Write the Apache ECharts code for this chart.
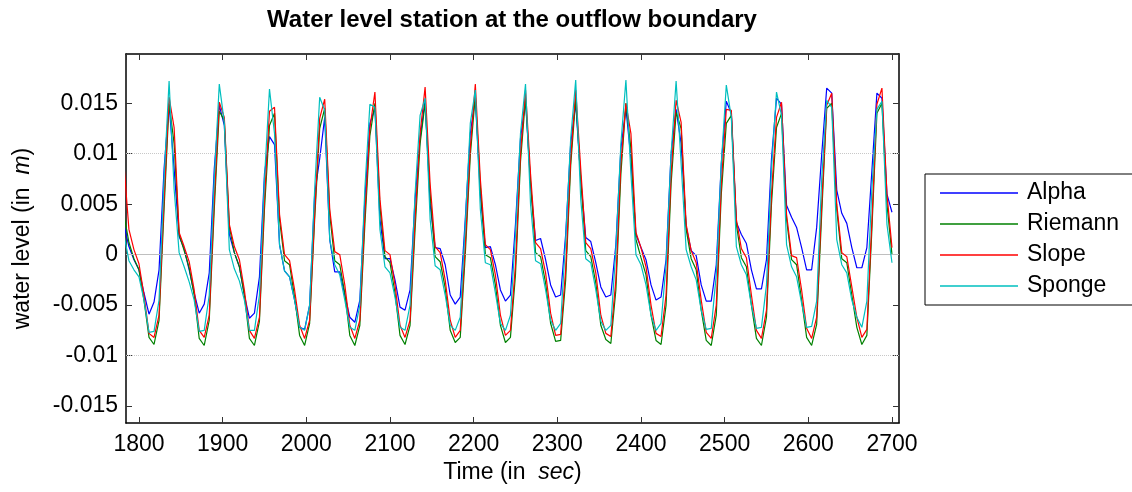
<!DOCTYPE html>
<html><head><meta charset="utf-8">
<script src="https://cdn.jsdelivr.net/npm/echarts@6/dist/echarts.min.js"></script>
<style>html,body{margin:0;padding:0;background:#fff}#c{width:1132px;height:492px}</style>
</head><body><div id="c"></div>
<script>
const times = [1782,1788,1794,1800,1806,1812,1818,1824,1830,
1836,1842,1848,1854,1860,1866,1872,1878,1884,1890,
1896,1902,1908,1914,1920,1926,1932,1938,1944,1950,
1956,1962,1968,1974,1980,1986,1992,1998,2004,2010,
2016,2022,2028,2034,2040,2046,2052,2058,2064,2070,
2076,2082,2088,2094,2100,2106,2112,2118,2124,2130,
2136,2142,2148,2154,2160,2166,2172,2178,2184,2190,2196,
2202,2208,2214,2220,2226,2232,2238,2244,2250,2256,
2262,2268,2274,2280,2286,2292,2298,2304,2310,2316,
2322,2328,2334,2340,2346,2352,2358,2364,2370,2376,
2382,2388,2394,2400,2406,2412,2418,2424,2430,2436,
2442,2448,2454,2460,2466,2472,2478,2484,2490,2496,
2502,2508,2514,2520,2526,2532,2538,2544,2550,2556,
2562,2568,2574,2580,2586,2592,2598,2604,2610,2616,
2622,2628,2634,2640,2646,2652,2658,2664,2670,2676,
2682,2688,2694,2700];

const alpha = [0.0030,0.0008,-0.0005,-0.0015,-0.0038,-0.0059,-0.0047,-0.0015,0.0085,
0.0149,0.0085,0.0018,0.0006,-0.0015,-0.0038,-0.0058,-0.0049,-0.0018,0.0085,
0.0148,0.0128,0.0020,0.0002,-0.0012,-0.0040,-0.0063,-0.0058,-0.0022,0.0080,
0.0117,0.0109,0.0010,-0.0016,-0.0022,-0.0045,-0.0072,-0.0074,-0.0050,0.0060,
0.0095,0.0136,0.0015,-0.0017,-0.0017,-0.0040,-0.0062,-0.0067,-0.0045,0.0055,
0.0130,0.0145,0.0035,-0.0004,-0.0004,-0.0025,-0.0052,-0.0055,-0.0035,0.0055,
0.0115,0.0153,0.0050,0.0007,0.0006,-0.0010,-0.0040,-0.0049,-0.0042,0.0035,0.0120,
0.0155,0.0060,0.0007,0.0008,-0.0010,-0.0035,-0.0046,-0.0040,0.0030,0.0115,
0.0153,0.0070,0.0014,0.0016,-0.0005,-0.0030,-0.0042,-0.0040,0.0020,0.0110,
0.0150,0.0075,0.0017,0.0013,-0.0008,-0.0032,-0.0042,-0.0040,0.0010,0.0105,
0.0145,0.0095,0.0020,0.0007,-0.0005,-0.0030,-0.0045,-0.0042,-0.0005,0.0100,
0.0144,0.0110,0.0028,0.0004,-0.0001,-0.0030,-0.0046,-0.0046,-0.0010,0.0090,
0.0152,0.0140,0.0032,0.0020,0.0011,-0.0015,-0.0034,-0.0034,-0.0005,0.0095,
0.0155,0.0149,0.0049,0.0037,0.0027,0.0007,-0.0015,-0.0015,0.0027,0.0099,
0.0165,0.0160,0.0064,0.0041,0.0031,0.0007,-0.0013,-0.0013,0.0007,0.0083,
0.0160,0.0155,0.0060,0.0042];

const riemann = [0.0040,0.0012,-0.0004,-0.0015,-0.0045,-0.0082,-0.0089,-0.0065,0.0045,
0.0150,0.0110,0.0020,0.0004,-0.0013,-0.0040,-0.0083,-0.0090,-0.0065,0.0045,
0.0142,0.0133,0.0028,0.0002,-0.0012,-0.0040,-0.0083,-0.0090,-0.0066,0.0045,
0.0128,0.0140,0.0035,-0.0006,-0.0010,-0.0042,-0.0080,-0.0090,-0.0068,0.0035,
0.0125,0.0145,0.0040,-0.0006,-0.0010,-0.0038,-0.0080,-0.0090,-0.0070,0.0030,
0.0118,0.0150,0.0048,-0.0002,-0.0008,-0.0038,-0.0080,-0.0089,-0.0070,0.0025,
0.0110,0.0150,0.0060,-0.0002,-0.0007,-0.0033,-0.0075,-0.0087,-0.0082,0.0000,0.0098,
0.0158,0.0068,0.0000,-0.0003,-0.0030,-0.0070,-0.0087,-0.0082,-0.0020,0.0092,
0.0155,0.0072,0.0002,-0.0002,-0.0028,-0.0068,-0.0086,-0.0085,-0.0025,0.0088,
0.0155,0.0075,0.0004,-0.0002,-0.0028,-0.0070,-0.0084,-0.0088,-0.0035,0.0080,
0.0150,0.0105,0.0015,-0.0003,-0.0020,-0.0060,-0.0085,-0.0089,-0.0050,0.0070,
0.0141,0.0125,0.0025,-0.0004,-0.0015,-0.0055,-0.0085,-0.0090,-0.0060,0.0060,
0.0130,0.0138,0.0030,-0.0003,-0.0012,-0.0050,-0.0083,-0.0090,-0.0062,0.0050,
0.0126,0.0140,0.0035,-0.0005,-0.0010,-0.0045,-0.0082,-0.0090,-0.0069,0.0040,
0.0145,0.0150,0.0045,-0.0004,-0.0008,-0.0040,-0.0072,-0.0089,-0.0080,0.0025,
0.0140,0.0150,0.0050,0.0000];

const slope = [0.0090,0.0025,0.0005,-0.0009,-0.0040,-0.0078,-0.0082,-0.0060,0.0055,
0.0156,0.0126,0.0022,0.0008,-0.0007,-0.0035,-0.0075,-0.0082,-0.0060,0.0055,
0.0151,0.0136,0.0030,0.0008,-0.0005,-0.0035,-0.0075,-0.0083,-0.0062,0.0055,
0.0142,0.0146,0.0040,0.0000,-0.0006,-0.0035,-0.0070,-0.0083,-0.0065,0.0040,
0.0135,0.0154,0.0045,0.0003,0.0000,-0.0030,-0.0070,-0.0083,-0.0065,0.0040,
0.0125,0.0161,0.0055,0.0004,0.0000,-0.0030,-0.0070,-0.0082,-0.0065,0.0035,
0.0120,0.0166,0.0070,0.0008,0.0002,-0.0025,-0.0065,-0.0082,-0.0075,0.0010,0.0105,
0.0169,0.0075,0.0010,0.0005,-0.0020,-0.0060,-0.0080,-0.0075,-0.0010,0.0100,
0.0163,0.0080,0.0012,0.0006,-0.0018,-0.0058,-0.0080,-0.0079,-0.0015,0.0095,
0.0163,0.0085,0.0012,0.0006,-0.0018,-0.0060,-0.0078,-0.0081,-0.0025,0.0090,
0.0150,0.0120,0.0022,0.0007,-0.0012,-0.0050,-0.0078,-0.0081,-0.0040,0.0080,
0.0153,0.0131,0.0030,0.0004,-0.0008,-0.0045,-0.0077,-0.0083,-0.0050,0.0070,
0.0144,0.0143,0.0035,0.0006,-0.0003,-0.0040,-0.0075,-0.0083,-0.0055,0.0060,
0.0136,0.0151,0.0040,-0.0001,-0.0003,-0.0035,-0.0073,-0.0083,-0.0062,0.0050,
0.0148,0.0160,0.0050,0.0002,-0.0002,-0.0032,-0.0062,-0.0082,-0.0074,0.0033,
0.0149,0.0165,0.0060,0.0007];

const sponge = [0.0020,-0.0006,-0.0015,-0.0022,-0.0045,-0.0077,-0.0076,-0.0045,0.0075,
0.0172,0.0065,0.0002,-0.0012,-0.0027,-0.0045,-0.0076,-0.0075,-0.0040,0.0075,
0.0169,0.0131,0.0005,-0.0014,-0.0026,-0.0045,-0.0075,-0.0075,-0.0040,0.0075,
0.0164,0.0120,0.0010,-0.0016,-0.0022,-0.0045,-0.0072,-0.0075,-0.0050,0.0065,
0.0156,0.0143,0.0015,-0.0010,-0.0020,-0.0045,-0.0072,-0.0075,-0.0050,0.0065,
0.0149,0.0146,0.0025,-0.0012,-0.0018,-0.0042,-0.0072,-0.0075,-0.0050,0.0060,
0.0138,0.0155,0.0035,-0.0011,-0.0015,-0.0040,-0.0070,-0.0075,-0.0062,0.0030,0.0130,
0.0163,0.0045,-0.0008,-0.0010,-0.0038,-0.0068,-0.0075,-0.0060,0.0020,0.0120,
0.0169,0.0050,-0.0006,-0.0009,-0.0035,-0.0065,-0.0075,-0.0068,0.0015,0.0115,
0.0173,0.0055,-0.0004,-0.0008,-0.0035,-0.0066,-0.0075,-0.0070,0.0005,0.0110,
0.0173,0.0080,0.0000,-0.0010,-0.0030,-0.0060,-0.0075,-0.0068,-0.0010,0.0100,
0.0172,0.0090,0.0005,-0.0012,-0.0025,-0.0055,-0.0074,-0.0073,-0.0020,0.0090,
0.0168,0.0136,0.0008,-0.0010,-0.0020,-0.0050,-0.0073,-0.0072,-0.0030,0.0085,
0.0161,0.0138,0.0010,-0.0012,-0.0022,-0.0048,-0.0072,-0.0071,-0.0046,0.0075,
0.0153,0.0146,0.0015,-0.0010,-0.0018,-0.0045,-0.0062,-0.0072,-0.0046,0.0066,
0.0144,0.0152,0.0030,-0.0008];

const seriesNames = ['Alpha', 'Riemann', 'Slope', 'Sponge'];
const seriesColors = ['#0000ff', '#008000', '#ff0000', '#00bfbf'];
const refLevels = [0.0107, -0.0107];
const xRange = [1784.5, 2708.4];
const yRange = [-0.01668, 0.01988];

const FONT = '"Liberation Sans", Arial, Helvetica, sans-serif';
const seriesValues = [alpha, riemann, slope, sponge];
const pairs = vals => times.map((t, i) => [t, vals[i]]);

const axisLine = {show: true, onZero: false, lineStyle: {color: '#000', width: 1.5}};
const axisTick = {show: true, inside: true, length: 6, lineStyle: {color: '#333', width: 1}};
const labelBase = {fontFamily: FONT, fontSize: 23, color: '#000', showMinLabel: false, showMaxLabel: false,
  formatter: v => String(v)};

const chart = echarts.init(document.getElementById('c'));
chart.setOption({
  animation: false,
  backgroundColor: '#fff',
  title: {
    text: 'Water level station at the outflow boundary',
    left: 512, top: 8, textAlign: 'center', padding: 0,
    textStyle: {fontFamily: FONT, fontSize: 24, fontWeight: 'bold', color: '#000'}
  },
  legend: {
    orient: 'vertical', left: 925, top: 174,
    padding: [7, 40, 7, 15], itemGap: 7, itemWidth: 78, itemHeight: 1.5, icon: 'rect',
    backgroundColor: '#fff', borderColor: '#000', borderWidth: 1, borderRadius: 0,
    textStyle: {fontFamily: FONT, fontSize: 23, color: '#000', lineHeight: 24, padding: [0, 0, 0, 4]},
    data: seriesNames
  },
  grid: {left: 126, top: 54, right: 233, bottom: 69},
  xAxis: [{
    type: 'value', min: xRange[0], max: xRange[1], splitNumber: 9, position: 'bottom',
    axisLine, axisTick, splitLine: {show: false},
    axisLabel: Object.assign({margin: 10}, labelBase),
    name: '{a|Time (in  }{b|sec}{a|)}', nameLocation: 'middle', nameGap: 31,
    nameTextStyle: {rich: {
      a: {fontFamily: FONT, fontSize: 23, color: '#000'},
      b: {fontFamily: FONT, fontSize: 23, color: '#000', fontStyle: 'italic'}
    }}
  }, {
    type: 'value', min: xRange[0], max: xRange[1], splitNumber: 9, position: 'top',
    axisLine, axisTick, splitLine: {show: false}, axisLabel: {show: false}
  }],
  yAxis: [{
    type: 'value', min: yRange[0], max: yRange[1], splitNumber: 7, position: 'left',
    axisLine, axisTick, splitLine: {show: false},
    axisLabel: Object.assign({margin: 8}, labelBase),
    name: '{a|water level (in  }{b|m}{a|)}', nameLocation: 'middle', nameGap: 92,
    nameTextStyle: {rich: {
      a: {fontFamily: FONT, fontSize: 23, color: '#000'},
      b: {fontFamily: FONT, fontSize: 23, color: '#000', fontStyle: 'italic'}
    }}
  }, {
    type: 'value', min: yRange[0], max: yRange[1], splitNumber: 7, position: 'right',
    axisLine, axisTick, splitLine: {show: false}, axisLabel: {show: false}
  }],
  series: seriesNames.map((name, i) => {
    const s = {
      name, type: 'line', xAxisIndex: 0, yAxisIndex: 0,
      data: pairs(seriesValues[i]),
      symbol: 'none', showSymbol: false, clip: true, z: 3 + i,
      lineStyle: {color: seriesColors[i], width: 1.2},
      itemStyle: {color: seriesColors[i]}
    };
    if (i === 0) {
      s.markLine = {
        silent: true, symbol: 'none', label: {show: false}, animation: false,
        data: [{yAxis: 0, lineStyle: {color: '#bfbfbf', type: 'solid', width: 1.2}}]
          .concat(refLevels.map(v => ({yAxis: v, lineStyle: {color: '#c8c8c8', type: 'dotted', width: 1}})))
      };
    }
    return s;
  })
});
</script>
</body></html>
